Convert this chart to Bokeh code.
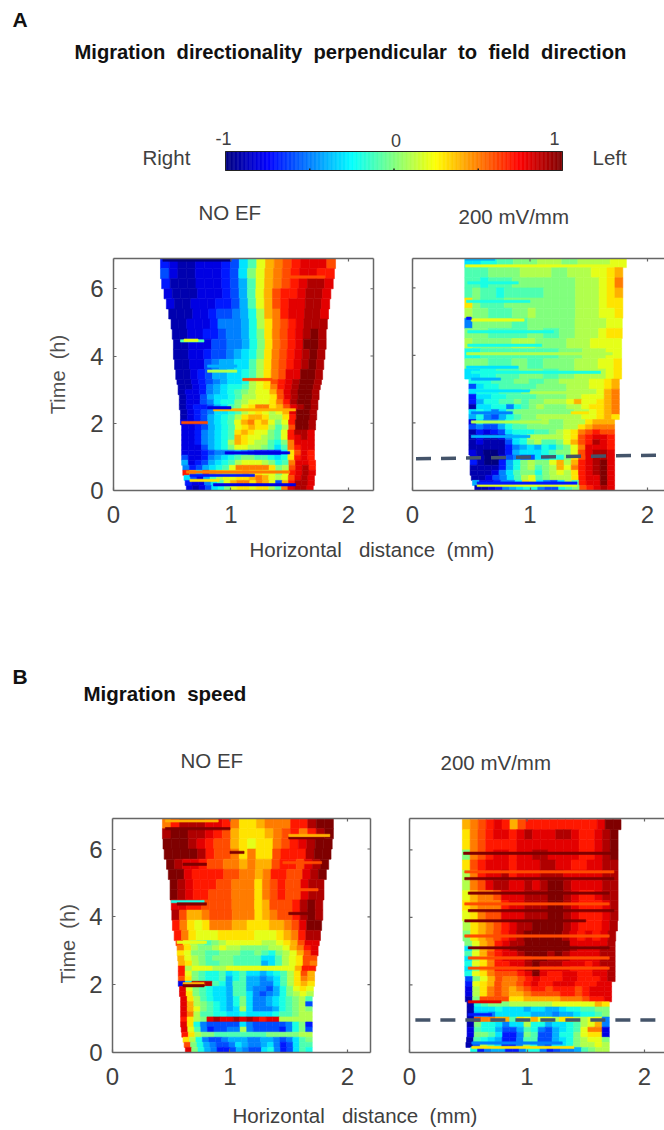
import numpy as np
from bokeh.embed import file_html
from bokeh.resources import INLINE
from bokeh.plotting import figure
from bokeh.layouts import column, row
from bokeh.models import Range1d, LinearAxis, FixedTicker, LinearColorMapper, ColumnDataSource
from bokeh.core.properties import value

FONT = "Liberation Sans"
NB = "\u00a0"
TIME_EDGES = [6.9,6.6,6.3,6.0,5.7,5.4,5.1,4.8,4.5,4.2,3.9,3.6,3.3,3.15,3.0,2.85,2.7,2.55,2.4,2.25,2.1,1.95,1.8,1.65,1.5,1.35,1.2,1.05,0.9,0.75,0.6,0.45,0.3,0.15,0.0]

# Values are in tenths of the colour scale (-10 .. 10); rows run from the top of the panel down.
AL_LEFT = [.40,.40,.41,.43,.45,.47,.49,.50,.51,.51,.52,.53,.54,.55,.55,.56,.56,.56,.57,.57,.57,.58,.58,.58,.58,.58,.58,.58,.58,.59,.59,.60,.61,.62]
AL_RIGHT = [1.89,1.88,1.87,1.85,1.84,1.83,1.82,1.81,1.81,1.80,1.79,1.78,1.77,1.76,1.75,1.75,1.74,1.74,1.73,1.73,1.72,1.72,1.71,1.71,1.71,1.71,1.71,1.71,1.72,1.72,1.72,1.71,1.71,1.70]
AL = [
[-7,-8,-9,-9,-8,-8,-8,-7,-6,-3,-1,2,4,5,6,7,8,8,8,6],
[-6,-8,-9,-9,-8,-8,-8,-7,-6,-3,0,2,4,5,6,7,8,8,7,7],
[-7,-9,-9,-9,-8,-8,-8,-7,-6,-4,-1,2,4,5,6,7,8,9,9,8],
[-8,-9,-9,-9,-8,-8,-8,-7,-6,-4,-1,2,4,6,7,7,8,9,9,8],
[-8,-9,-9,-8,-8,-8,-7,-7,-6,-4,-1,2,4,6,7,8,8,9,9,8],
[-9,-9,-9,-8,-8,-7,-6,-6,-5,-4,-2,1,4,5,7,8,8,9,9,8],
[-9,-9,-8,-8,-8,-7,-5,-5,-5,-4,-2,1,3,5,6,7,8,9,9,9],
[-9,-9,-8,-8,-7,-7,-6,-5,-5,-4,-2,0,3,5,6,7,8,9,10,9],
[-9,-9,-8,-8,-8,-6,-6,-5,-5,-4,-2,0,3,5,6,7,8,10,10,9],
[-9,-9,-8,-8,-7,-6,-6,-5,-4,-3,-2,0,3,5,6,7,8,9,10,9],
[-9,-9,-8,-8,-6,-5,-4,-4,-3,-3,-1,1,3,5,6,7,8,9,10,9],
[-9,-9,-8,-7,-6,-4,-4,-3,-3,-2,-1,1,3,5,6,8,8,10,10,9],
[-9,-9,-8,-7,-6,-5,-4,-3,-3,-2,1,2,3,6,7,8,9,10,10,9],
[-9,-9,-8,-7,-5,-4,-3,-2,-2,-1,1,2,3,5,7,8,9,10,10,9],
[-9,-8,-8,-7,-5,-4,-3,-2,-1,0,1,2,2,4,6,8,9,10,10,9],
[-9,-8,-8,-6,-4,-3,-3,-2,-1,1,1,2,2,3,6,8,9,10,10,9],
[-9,-8,-8,-6,-5,-3,-2,-2,0,1,2,2,2,3,5,7,9,10,10,9],
[-9,-8,-7,-7,-6,-4,-3,-1,0,2,3,5,5,3,4,6,8,9,10,9],
[-9,-8,-7,-6,-5,-3,-3,-2,-1,1,2,3,2,1,2,4,8,10,10,9],
[-9,-8,-7,-6,-4,-3,-2,-1,1,3,4,4,3,1,1,3,7,10,10,9],
[-8,-8,-7,-6,-4,-3,-2,-1,2,4,5,3,4,2,0,2,7,10,10,9],
[-8,-8,-7,-6,-4,-3,-2,-1,2,3,4,3,3,1,-1,1,6,10,10,9],
[-8,-8,-7,-5,-4,-3,-2,-1,3,4,3,2,2,0,-1,2,7,9,9,8],
[-8,-8,-7,-5,-4,-3,-2,-1,4,3,2,2,1,0,-1,2,7,8,9,8],
[-8,-8,-7,-5,-4,-3,-2,1,4,3,2,1,1,-1,-2,0,5,8,8,8],
[-8,-8,-8,-6,-4,-3,-2,0,2,2,1,1,0,-1,-3,-1,5,7,8,8],
[-8,-8,-8,-7,-6,-5,-5,-5,-4,-5,-6,-7,-7,-7,-7,-3,3,6,8,7],
[-6,-8,-8,-7,-5,-4,-3,-2,-1,0,0,-1,-1,-2,-3,-2,3,7,8,7],
[-4,-8,-7,-6,-4,-3,-2,-1,1,2,2,2,1,0,-2,-1,5,8,8,7],
[-5,-7,-6,-4,-3,-2,-1,2,5,5,5,5,5,3,0,1,6,8,9,7],
[7,4,-2,6,4,3,2,2,3,4,3,3,2,2,0,2,7,8,9,8],
[-3,-6,-8,-4,-1,1,2,2,3,3,4,5,4,2,1,2,6,8,9,8],
[-7,-8,-8,-5,-3,-1,2,4,5,5,3,5,4,2,-6,4,7,9,9,8],
[-8,-9,-8,-6,-3,-2,0,2,3,3,2,3,3,1,-1,5,8,9,9,8],
]
AL_STREAKS = [(4.45,.57,.77,-1),(4.47,.60,.72,2),(2.02,.58,.80,6),(6.35,1.5,1.8,6),(3.3,1.1,1.35,6),(2.4,.85,1.55,4),(2.46,.8,1.0,-8),(1.12,.95,1.5,-8),(.55,.62,1.5,5),(.45,.65,1.2,-7),(.3,.65,.9,3),(.17,.85,1.55,-8),(3.55,.8,1.05,1),(3.7,.8,1.05,-4),(6.85,.42,1.0,-10)]

AR_LEFT = [.445]*12+[.48]*15+[.49]*4+[.50,.51,.53]
AR_RIGHT = [1.82,1.79,1.79,1.79,1.79,1.79,1.785,1.785,1.78,1.78,1.78,1.78]+[1.76]*8+[1.72]*14
AR = [
[-3,-3,-2,-2,-1,-1,0,0,0,1,1,1,0,0,1,1,1,1,2,2],
[-1,-1,-1,0,0,0,0,1,1,1,1,0,0,1,1,1,2,2,3,4],
[-1,-1,-2,-1,-1,-1,0,0,0,0,0,0,0,0,1,1,1,2,3,5],
[-1,0,-1,-1,-2,-1,-1,-1,-1,-1,0,0,0,0,1,1,1,2,3,4],
[3,0,-1,-1,-1,0,0,0,0,0,0,0,0,0,1,1,1,2,3,3],
[1,0,0,-1,-1,-1,0,0,1,0,0,0,0,0,1,1,1,2,2,3],
[-5,0,0,0,0,0,-1,-1,0,0,0,0,0,0,1,1,1,1,2,2],
[0,0,0,-1,-1,-1,-1,-1,0,0,-1,-1,0,0,1,1,1,2,3,3],
[1,0,0,0,0,0,1,1,1,0,0,0,0,1,1,1,2,2,2,2],
[-2,-2,-1,-1,-1,-1,-1,-1,-1,-1,-1,-1,0,0,0,1,1,1,2,2],
[0,0,0,-1,-1,-1,0,0,-1,-1,0,0,0,0,1,1,1,2,2,3],
[-3,-3,-2,-2,-1,-1,-1,0,0,0,-1,-1,0,0,1,1,1,1,2,3],
[-2,-2,-2,-1,-1,-1,0,0,-1,-1,0,0,1,1,1,1,2,2,3,4],
[-6,-3,-2,-2,-1,-1,-1,-1,-1,0,0,0,0,1,1,1,2,2,3,4],
[-3,-2,-2,-2,-1,-1,-1,0,0,0,0,0,0,1,1,1,1,2,4,5],
[-7,-3,-3,-2,-2,-1,-1,-1,-1,0,0,0,0,1,1,2,2,2,4,5],
[-7,-4,-2,-2,-1,-1,0,-1,0,0,1,1,1,2,4,2,2,3,4,5],
[-9,-3,-3,-2,-2,-5,-2,-1,0,1,0,0,0,1,1,2,3,3,4,5],
[-3,-2,-3,-5,-3,-1,0,0,0,0,0,0,0,0,1,1,2,3,4,5],
[-4,-2,-5,-6,-4,-2,-1,0,0,1,1,1,1,1,1,2,2,3,4,3],
[-8,-3,-5,-5,-4,-2,-1,0,0,0,1,0,0,1,1,1,3,4,4,4],
[-6,-5,-6,-6,-4,-2,-1,-1,0,0,0,0,0,1,1,3,4,5,5,5],
[-9,-7,-8,-7,-6,-3,-2,-2,-2,-1,-1,0,1,2,3,5,6,7,6,6],
[-9,-8,-9,-9,-8,-5,-3,-2,1,1,1,1,1,2,3,6,7,8,8,7],
[-9,-8,-9,-9,-9,-6,-3,-2,0,1,-1,-1,0,2,4,6,7,9,8,7],
[-9,-9,-9,-9,-9,-7,-5,-4,-3,-4,-2,-3,-1,0,2,5,8,8,8,7],
[-8,-9,-10,-10,-9,-7,-4,-3,-3,-3,-2,-1,0,0,2,6,8,9,9,8],
[-8,-9,-10,-10,-8,-6,-5,-6,-6,-3,-3,-2,-2,0,3,6,8,9,9,8],
[-7,-9,-10,-10,-7,-4,-2,0,1,0,0,2,4,1,4,7,8,9,10,8],
[-9,-9,-9,-9,-7,-4,-2,0,1,-1,0,1,4,2,5,7,8,9,10,8],
[-9,-9,-9,-8,-5,-3,-1,0,0,-2,0,1,2,1,3,7,8,9,10,8],
[-9,-9,-8,-6,-5,-3,-1,1,2,-1,0,1,1,1,3,7,8,8,10,8],
[-4,-8,-8,-7,-5,-5,-2,3,2,-3,-5,-6,-3,1,-1,7,8,8,10,8],
[-9,-9,-8,-7,-5,-4,-3,-2,-2,-5,-6,-6,-2,-1,0,6,7,8,9,8],
]
AR_STREAKS = [(6.85,.45,.7,-4),(6.65,.45,1.7,2),(6.15,.47,.9,-2),(5.6,.46,1.0,-2),(5.05,.5,.95,2),(5.1,.46,.5,-7),(4.7,.47,1.2,-2),(4.3,.47,1.1,-2),(4.05,.46,1.7,1),(3.65,.46,.9,-3),(3.5,.5,1.6,-2),(3.3,.5,.75,-4),(2.95,.52,1.0,-3),(2.9,1.0,1.5,1),(2.3,.5,.85,-5),(2.3,1.35,1.5,3),(2.03,.5,1.1,1),(1.6,.5,1.0,-4),(.15,.55,1.4,2),(.22,.55,1.4,-7)]

BL_LEFT = [.425,.425,.43,.44,.46,.475,.49,.49,.5,.505,.51,.525,.54,.55,.55,.555,.56,.56,.56,.56,.56,.57,.57,.58,.58,.58,.58,.58,.58,.585,.59,.60,.61,.62]
BL_RIGHT = [1.88,1.88,1.87,1.86,1.84,1.82,1.80,1.80,1.79,1.79,1.78,1.77,1.76,1.75,1.75,1.74,1.74,1.73,1.72,1.72,1.72,1.71,1.71]+[1.70]*11
BL = [
[5,7,9,9,9,8,8,7,5,3,3,4,5,5,5,7,7,9,10,10],
[9,10,10,9,9,8,7,6,4,3,3,3,4,5,6,7,5,7,9,10],
[10,10,10,9,8,7,6,6,4,3,2,3,3,5,6,7,8,9,10,10],
[10,10,10,10,9,7,6,6,5,3,5,3,3,6,7,7,7,9,10,10],
[10,9,8,8,7,6,6,5,5,4,5,4,4,6,7,7,6,8,9,10],
[10,10,8,7,7,7,7,6,6,5,5,4,5,7,7,6,6,8,9,10],
[10,9,8,7,7,7,6,6,5,5,5,3,5,6,7,6,6,8,9,9],
[10,9,8,7,7,6,6,6,5,5,5,3,5,6,7,6,6,8,9,9],
[8,8,7,7,6,6,6,6,5,5,5,3,4,6,6,6,7,9,10,9],
[9,6,4,4,5,6,6,6,5,5,5,3,4,5,6,6,7,9,10,9],
[7,5,3,2,3,5,5,5,4,4,3,3,3,4,4,5,6,8,10,10],
[7,5,3,2,2,2,3,3,3,3,3,2,2,2,3,4,5,7,9,9],
[6,3,1,0,-1,0,1,2,2,2,2,2,1,1,2,3,4,6,8,8],
[5,3,1,0,0,1,2,1,1,0,0,0,0,1,1,2,4,5,7,8],
[3,2,0,0,-1,-1,0,0,0,-1,-1,0,-1,-2,0,1,2,4,6,8],
[4,2,1,0,-1,0,0,0,-1,-1,-1,-1,-3,-3,-1,1,2,3,6,6],
[4,3,1,0,-1,-1,0,0,-1,-1,-1,-1,-4,-3,-1,1,2,3,6,5],
[7,1,2,2,2,1,1,2,2,2,2,2,2,2,2,2,2,4,7,7],
[7,2,0,-1,-2,-2,-1,-3,-2,-1,-3,-3,-4,-3,-2,-1,1,3,6,4],
[6,3,0,-1,-2,-2,-1,-4,-2,-1,-4,-4,-5,-4,-3,-1,1,3,5,4],
[-8,-3,9,9,9,-1,-2,-4,-1,-1,-4,-4,-5,-5,-3,-1,1,3,4,3],
[8,2,0,-1,-2,-3,-3,-4,-1,-1,-4,-5,-5,-6,-4,-2,0,2,3,2],
[8,3,0,-1,-2,-3,-3,-4,-1,-1,-3,-5,-6,-5,-4,-2,0,1,2,1],
[8,3,1,-1,-2,-3,-3,-4,-2,0,-3,-5,-5,-4,-3,-2,-1,0,1,-1],
[8,4,1,0,-1,-2,-3,-4,-2,0,-3,-5,-5,-4,-3,-2,-1,0,1,-6],
[8,4,2,0,-1,-2,-3,-4,-3,1,-3,-5,-5,-5,-4,-2,-1,0,1,0],
[8,5,1,-1,-1,-2,-2,-3,-3,-2,-3,-3,-3,-3,-2,-1,-1,0,1,1],
[7,3,1,0,8,9,8,8,9,8,9,8,7,8,8,1,1,1,1,1],
[8,3,-2,-5,-6,-6,-6,-6,-6,-3,-5,-6,-6,-6,-6,-6,-5,-2,0,-7],
[8,2,-1,-5,-7,-6,-6,-5,-5,1,-5,-6,-6,-6,-6,-7,-5,-2,0,-6],
[7,3,1,0,0,-1,-1,-1,-1,-1,-1,-1,-1,0,0,0,0,0,1,1],
[3,1,-2,-5,-6,-6,-5,-4,-4,-4,-5,-5,-4,-4,-5,-6,-5,-3,-1,0],
[6,0,-2,-4,-5,-6,-6,-5,-3,-4,-5,-5,-4,-3,-5,-7,-6,-3,-1,-1],
[8,0,-2,-4,-5,-7,-7,-6,-4,-5,-6,-6,-3,-2,-5,-7,-6,-3,-1,-2],
]
BL_STREAKS = [(6.83,.45,.9,4),(6.6,.45,1.0,10),(6.33,1.5,1.8,10),(6.4,1.5,1.85,4),(5.55,.6,.8,10),(4.45,.5,.78,-2),(4.38,.55,.8,10),(4.1,1.5,1.72,10),(3.25,.55,.8,2),(2.03,.6,.78,4),(1.97,.6,.78,10),(5.9,1.0,1.12,10),(5.6,1.45,1.78,6),(4.8,1.5,1.75,6)]

BR_LEFT = [.45]*10+[.455,.455]+[.47]*7+[.475]*5+[.49]*7+[.485,.48,.52]
BR_RIGHT = [1.80]+[1.775]*9+[1.77,1.755]+[1.75]*8+[1.72]*4+[1.70]*10
BR = [
[4,5,6,7,8,7,4,6,7,7,7,7,7,7,7,7,7,8,10,10],
[3,5,6,7,8,8,7,8,9,8,8,8,9,9,8,7,7,8,9,10],
[3,5,6,7,7,7,7,8,8,8,8,8,8,8,8,7,7,8,9,10],
[0,5,6,7,8,8,7,8,8,9,9,8,8,8,8,7,7,8,9,10],
[3,6,7,8,8,8,7,8,8,8,9,9,8,8,7,7,8,8,9,9],
[1,5,7,8,8,9,7,8,8,8,9,9,9,8,8,8,8,8,9,9],
[1,5,6,8,9,9,8,8,9,8,9,10,10,9,8,8,8,8,9,9],
[2,4,5,5,6,8,8,8,9,9,9,10,10,9,8,7,7,8,9,9],
[3,4,5,5,5,7,8,8,9,9,9,10,10,9,8,7,7,7,8,9],
[2,3,5,6,6,8,8,8,9,9,9,10,10,9,8,7,7,7,8,9],
[1,3,4,5,6,7,8,9,9,10,10,10,10,9,8,7,7,7,8,9],
[0,3,4,5,6,7,8,9,10,10,10,10,10,9,8,7,8,7,8,9],
[0,2,4,5,7,8,9,9,10,10,10,10,10,10,8,8,8,8,8,9],
[-3,1,4,5,7,8,9,10,10,10,10,10,10,10,9,8,8,8,9,9],
[-1,2,4,6,7,8,8,9,10,10,10,9,10,9,8,8,8,8,9,9],
[-3,1,3,5,7,8,8,8,9,10,10,9,9,9,8,8,8,8,9,9],
[-2,2,3,5,7,7,8,8,9,10,9,9,9,8,8,8,7,8,9,9],
[-3,0,4,5,7,7,7,8,9,10,8,8,8,8,7,7,7,8,8,9],
[-2,2,3,5,6,6,6,7,8,10,8,7,7,8,8,7,7,8,8,9],
[-6,0,2,4,6,5,5,6,7,8,7,7,7,8,8,7,7,7,8,9],
[-7,2,3,4,6,5,5,6,7,8,7,7,8,8,8,7,7,7,8,8],
[-8,1,3,5,6,5,4,5,6,7,7,6,7,7,7,6,7,8,8,8],
[-8,1,3,5,6,5,4,4,5,6,6,6,6,7,7,6,7,8,8,8],
[-9,0,6,6,6,6,3,3,4,4,4,4,4,5,5,5,6,7,7,8],
[-9,-2,-1,0,0,0,1,1,1,1,1,1,2,2,2,2,2,2,4,3],
[-9,-3,-3,-3,-2,-3,-3,-3,-4,-3,-3,-4,-4,-3,-2,-2,-1,-1,0,0],
[-9,-4,-4,-5,-3,-3,-3,-3,-3,-4,-4,-4,-5,-4,-4,-3,-2,-2,-1,0],
[-9,6,5,5,4,4,-1,3,2,4,2,2,1,3,3,1,1,2,2,-5],
[-9,0,-2,-2,-3,-5,-3,-3,1,-2,-2,-4,-3,-3,-2,-1,1,2,4,-5],
[-8,-1,-2,-2,-4,-6,-6,-4,-1,-2,-5,-6,-4,-3,-2,-1,2,5,5,-8],
[-8,0,0,-1,-3,-7,-7,-5,0,-1,-6,-6,-4,-2,-2,0,2,3,3,-8],
[-9,-1,-2,-3,-4,-7,-7,-5,-1,-1,-6,-6,-4,-3,-2,0,1,2,2,0],
[-9,-6,1,-1,-3,-7,-7,-5,0,-2,-5,-6,-3,-3,-2,0,1,1,2,1],
[-2,-7,-5,-4,-4,-7,-7,-5,-2,-2,-5,-7,-6,-5,-5,-4,-1,0,1,1],
]
BR_STREAKS = [(5.9,.46,1.74,10),(5.35,.47,1.74,6),(5.15,.47,1.74,10),(4.72,.5,1.7,10),(4.4,.47,1.7,6),(4.2,.5,1.74,10),(3.9,.47,1.5,10),(3.45,.47,1.7,6),(3.1,.5,1.7,10),(2.8,.5,1.7,6),(2.5,.5,1.7,6),(1.5,.5,.78,8),(1.12,.5,.7,-7),(.15,.53,1.4,3),(.28,.53,1.3,-5)]

DASH_A_X = [0.03, 2.145]
DASH_A_T = [0.94, 1.05]
DASH_B_X = [0.05, 2.17]
DASH_B_T = [0.965, 0.965]

X_TICKS = [0, 1, 2]
Y_TICKS = [0, 2, 4, 6]
CB_TICKS = [-1, 0, 1]
CB_MINOR = [-0.5, 0, 0.5]

# Jet palette
def jet(v):
    r = np.clip(1.5 - abs(4*v - 3), 0, 1)
    g = np.clip(1.5 - abs(4*v - 2), 0, 1)
    b = np.clip(1.5 - abs(4*v - 1), 0, 1)
    return "#%02x%02x%02x" % (int(r*255), int(g*255), int(b*255))
JET = [jet(i/255) for i in range(256)]
mapper = LinearColorMapper(palette=JET, low=-1, high=1)

GRAY = "#666666"
TICK_COL = "#404040"

def panel(width, height, frame_left, frame_right, frame_top, frame_bottom, x_end, y_end, rows, lefts, rights, streaks, full_box=True, ylabel=None, dash=None):
    p = figure(width=width, height=height, output_backend="svg", toolbar_location=None,
               x_range=Range1d(0, x_end), y_range=Range1d(0, y_end),
               x_axis_location=None, y_axis_location=None,
               min_border_left=frame_left, min_border_right=frame_right,
               min_border_top=frame_top, min_border_bottom=frame_bottom,
               outline_line_color=None, background_fill_color="white")
    p.grid.visible = False
    L, R, T, B, V = [], [], [], [], []
    for i, vals in enumerate(rows):
        edges = np.linspace(lefts[i], rights[i], len(vals)+1)
        for j, v in enumerate(vals):
            L.append(edges[j]); R.append(edges[j+1]); T.append(min(TIME_EDGES[i], y_end)); B.append(TIME_EDGES[i+1]); V.append(v/10)
    for t, x0, x1, v in streaks:
        L.append(x0); R.append(x1); T.append(t+0.035); B.append(t-0.035); V.append(v/10)
    src = ColumnDataSource(dict(left=L, right=R, top=T, bottom=B, v=V))
    col = {"field": "v", "transform": mapper}
    p.quad(left="left", right="right", top="top", bottom="bottom", source=src, fill_color=col, line_color=col, line_width=0.6)
    if dash is not None:
        p.line(dash[0], dash[1], line_color="#44546A", line_width=3.5, line_dash="15 10")
    # tick marks of the unlabelled sides of the box
    dy, dx = 3/34.2, 3/117.5
    if ylabel is None:
        p.segment(x0=[0]*4, x1=[dx]*4, y0=Y_TICKS, y1=Y_TICKS, line_color=GRAY, line_width=1.2)
    p.segment(x0=X_TICKS, x1=X_TICKS, y0=[y_end]*3, y1=[y_end-dy]*3, line_color=GRAY, line_width=1.2)
    if full_box:
        p.segment(x0=[x_end]*4, x1=[x_end-dx]*4, y0=Y_TICKS, y1=Y_TICKS, line_color=GRAY, line_width=1.2)
    def style(ax):
        ax.axis_line_color = GRAY; ax.axis_line_width = 1.5
        ax.major_tick_line_color = GRAY; ax.major_tick_line_width = 1.2
        ax.major_tick_in = 3; ax.major_tick_out = 0
        ax.minor_tick_line_color = None
        ax.major_label_text_font = FONT
        ax.major_label_text_font_size = "24px"
        ax.major_label_text_color = TICK_COL
    bot = LinearAxis(ticker=FixedTicker(ticks=X_TICKS)); style(bot); bot.major_label_standoff = 15
    p.add_layout(bot, "below")
    lft = LinearAxis(ticker=FixedTicker(ticks=Y_TICKS if ylabel else [])); style(lft)
    lft.major_label_standoff = 10
    lft.major_label_orientation = "horizontal"
    if ylabel:
        lft.axis_label = ylabel[0]
        lft.axis_label_text_font = FONT
        lft.axis_label_text_font_style = "normal"
        lft.axis_label_text_font_size = "20px"
        lft.axis_label_text_color = "#505050"
        lft.axis_label_standoff = ylabel[1]
    p.add_layout(lft, "left")
    top = LinearAxis(ticker=FixedTicker(ticks=[])); style(top)
    p.add_layout(top, "above")
    if full_box:
        rgt = LinearAxis(ticker=FixedTicker(ticks=[])); style(rgt)
        p.add_layout(rgt, "right")
    return p

def canvas(y_top, y_bottom):
    p = figure(width=664, height=y_bottom-y_top, output_backend="svg", toolbar_location=None,
               x_range=Range1d(0, 664), y_range=Range1d(y_bottom, y_top),
               x_axis_location=None, y_axis_location=None,
               min_border_left=0, min_border_right=0, min_border_top=0, min_border_bottom=0,
               outline_line_color=None)
    p.grid.visible = False
    return p

def label(p, x, y, s, size, bold=False, color="#404040", align="left"):
    p.text(x=[x], y=[y], text=[s], text_font=value(FONT), text_font_size=size,
           text_font_style="bold" if bold else "normal", text_color=color,
           text_align=align, text_baseline="middle")

# Header
head = canvas(0, 240)
label(head, 12, 19, "A", "21px", True, "#111111")
TITLE_A = "Migration directionality perpendicular to field direction".replace(" ", NB + " ")
label(head, 74, 51, TITLE_A, "20.2px", True, "#111111")
CB_X0, CB_X1, CB_TOP, CB_BOT = 225, 562, 151, 170
edges = np.linspace(CB_X0, CB_X1, 257)
levels = np.linspace(-1, 1, 256)
cb = ColumnDataSource(dict(left=edges[:-1], right=edges[1:], v=levels))
col = {"field": "v", "transform": mapper}
head.quad(left="left", right="right", top=CB_TOP, bottom=CB_BOT, source=cb, fill_color=col, line_color=col, line_width=0.5)
head.quad(left=[CB_X0], right=[CB_X1], top=[CB_TOP], bottom=[CB_BOT], fill_color=None, line_color="#222222", line_width=1)
for v in CB_MINOR:
    x = CB_X0 + (v+1)/2*(CB_X1-CB_X0)
    head.segment(x0=[x], x1=[x], y0=[CB_BOT], y1=[CB_BOT-2], line_color="#222222", line_width=1.5)
for v, y, xoff in zip(CB_TICKS, [138, 140, 138], [-2, 2, -8]):
    label(head, CB_X0 + (v+1)/2*(CB_X1-CB_X0) + xoff, y, str(v), "18px", align="center")
label(head, 142, 157, "Right", "20.5px")
label(head, 592, 157, "Left", "20.5px")
label(head, 198, 212, "NO EF", "20.5px")
label(head, 458, 216, "200 mV/mm", "20.5px")

# Row A: page y 240..534
YLABEL = "Time" + NB + " (h)"
a_left = panel(395, 294, 113, 22, 14, 44, 2.213, 6.9, AL, AL_LEFT, AL_RIGHT, AL_STREAKS, True, (YLABEL, 18))
a_right = panel(269, 294, 17, 0, 18, 41, 252/117.5, 6.87, AR, AR_LEFT, AR_RIGHT, AR_STREAKS, False, None, dash=(DASH_A_X, DASH_A_T))

# Middle: page y 534..800
XLABEL = "Horizontal" + NB + NB + " distance" + NB + " (mm)"
mid = canvas(534, 800)
label(mid, 249, 549, XLABEL, "20.5px")
label(mid, 12, 676, "B", "21px", True, "#111111")
label(mid, 83, 693, "Migration" + NB + " speed", "20.5px", True, "#111111")
label(mid, 180, 760, "NO EF", "20.5px")
label(mid, 440, 762, "200 mV/mm", "20.5px")

# Row B: page y 800..1098
b_left = panel(395, 298, 112, 25, 16, 46, 2.196, 6.9, BL, BL_LEFT, BL_RIGHT, BL_STREAKS, True, (YLABEL + NB*3, 7))
b_right = panel(269, 298, 14, 0, 18, 43, 255/117.5, 6.93, BR, BR_LEFT, BR_RIGHT, BR_STREAKS, False, None, dash=(DASH_B_X, DASH_B_T))

# Footer: page y 1098..1130
foot = canvas(1098, 1130)
label(foot, 232, 1115, XLABEL, "20.5px")

root = column(head, row(a_left, a_right, spacing=0), mid, row(b_left, b_right, spacing=0), foot, spacing=0)
open("out.html", "w").write(file_html(root, INLINE))
